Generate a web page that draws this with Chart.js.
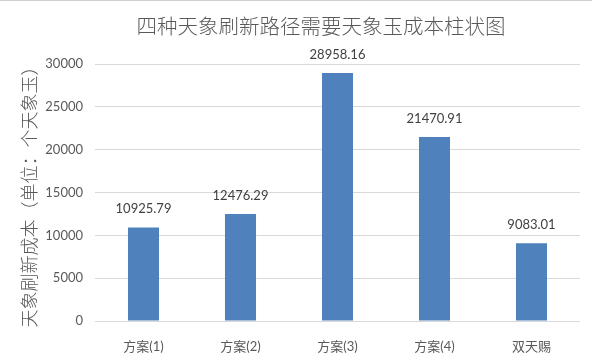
<!DOCTYPE html>
<html>
<head>
<meta charset="utf-8">
<script src="https://cdn.jsdelivr.net/npm/chart.js@4"></script>
<style>
	html, body { margin: 0; padding: 0; background: #fff; }
	#wrap { width: 592px; height: 357px; position: relative; border-top: 1px solid #d0d0d0; box-sizing: border-box; }
</style>
</head>
<body>
<div id="wrap"><canvas id="costChart"></canvas></div>
<script>
// chart data
const chartTitle = '四种天象刷新路径需要天象玉成本柱状图';
const categories = ['方案(1)', '方案(2)', '方案(3)', '方案(4)', '双天赐'];
const costValues = [10925.79, 12476.29, 28958.16, 21470.91, 9083.01];
const yTicks = [0, 5000, 10000, 15000, 20000, 25000, 30000];

const FONT = "Lato, 'Noto Sans CJK SC', sans-serif";
const CJK = "'Noto Sans CJK SC', sans-serif";

// title (a bit right of centre, like the original) + values above bars
const decorations = {
	id: 'decorations',
	afterDraw(chart) {
		const ctx = chart.ctx;
		ctx.save();
		ctx.font = '300 20.5px ' + CJK;
		ctx.fillStyle = '#595959';
		ctx.textAlign = 'center';
		ctx.textBaseline = 'middle';
		ctx.fillText(chartTitle, 321, 25);

		const meta = chart.getDatasetMeta(0);
		ctx.font = '13px ' + FONT;
		ctx.fillStyle = '#404040';
		ctx.textBaseline = 'bottom';
		meta.data.forEach(function(bar, i) {
			ctx.fillText(costValues[i].toFixed(2), bar.x, bar.y - 12);
		});
		ctx.restore();
	}
};

const ctx = document.getElementById('costChart').getContext('2d');
new Chart(ctx, {
	type: 'bar',
	data: {
		labels: categories,
		datasets: [{
			data: costValues,
			backgroundColor: '#4F81BD',
			barPercentage: 0.64,
			categoryPercentage: 0.5
		}]
	},
	options: {
		responsive: true,
		maintainAspectRatio: false,
		animation: false,
		layout: { padding: { left: 0, right: 12, top: 63, bottom: 0 } },
		scales: {
			x: {
				grid: { display: false },
				border: { display: false },
				ticks: {
					color: '#595959',
					font: { family: FONT, size: 13 },
					padding: 10
				},
				afterFit: function(scale) { scale.height = 36; }
			},
			y: {
				min: 0,
				max: 30000,
				afterBuildTicks: function(scale) {
					scale.ticks = yTicks.map(function(v) { return { value: v }; });
				},
				grid: { color: '#d9d9d9', drawTicks: false },
				border: { display: false },
				ticks: {
					color: '#595959',
					font: { family: FONT, size: 13 },
					padding: 12,
					callback: function(value) { return String(value); }
				},
				title: {
					display: true,
					text: '天象刷新成本（单位：个天象玉）',
					color: '#595959',
					font: { family: CJK, size: 18, weight: '300' },
					padding: { top: 18, bottom: 0 }
				},
				afterFit: function(scale) { scale.width = 95; }
			}
		},
		plugins: {
			legend: { display: false },
			tooltip: { enabled: false },
			title: { display: false }
		}
	},
	plugins: [decorations]
});
</script>
</body>
</html>
